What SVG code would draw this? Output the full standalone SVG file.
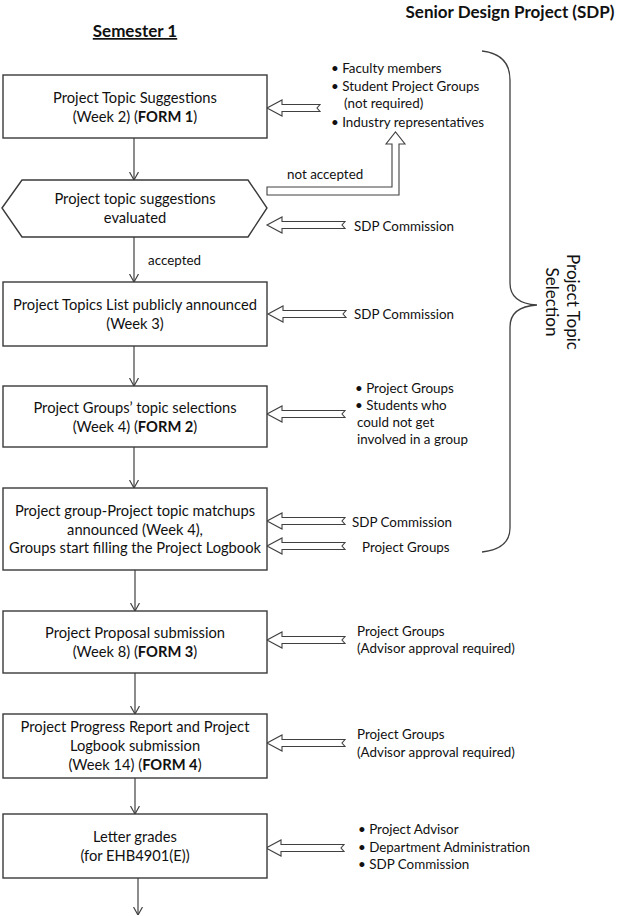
<svg xmlns="http://www.w3.org/2000/svg" width="636" height="916" viewBox="0 0 636 916">
<style>
text{font-family:Lato,"Open Sans","Liberation Sans",sans-serif;font-size:13.4px;fill:#111}
.c{text-anchor:middle;font-size:14.7px}
.b{font-weight:bold}
.box{fill:#fff;stroke:#3a3a3a;stroke-width:1.4}
.ba{fill:#fff;stroke:#404040;stroke-width:1.1;stroke-linejoin:miter}
.con{stroke:#404040;stroke-width:1.2;fill:none}
.brace{fill:none;stroke:#404040;stroke-width:1.3}
</style>
<defs>
<marker id="ah" viewBox="0 0 8 10" refX="8" refY="5" markerWidth="8" markerHeight="10" markerUnits="userSpaceOnUse" orient="auto">
<path d="M0,0.5 L8,5 L0,9.5" fill="none" stroke="#404040" stroke-width="1.2"/>
</marker>
<path id="blk" class="ba" d="M0,0 L15,-8 L15,-3.5 L78,-3.5 L75,0 L78,3.5 L15,3.5 L15,8 Z"/>
<path id="blks" class="ba" d="M0,0 L15,-8 L15,-3.5 L53,-3.5 L50,0 L53,3.5 L15,3.5 L15,8 Z"/>
</defs>

<text x="510" y="18" class="c b" style="font-size:17px">Senior Design Project (SDP)</text>
<text x="135" y="37" class="c b" style="font-size:17px;text-decoration:underline">Semester 1</text>

<g id="connectors">
<line class="con" x1="134" y1="138" x2="134" y2="180" marker-end="url(#ah)"/>
<line class="con" x1="134" y1="237" x2="134" y2="282" marker-end="url(#ah)"/>
<line class="con" x1="134" y1="346" x2="134" y2="386" marker-end="url(#ah)"/>
<line class="con" x1="134" y1="447" x2="134" y2="488" marker-end="url(#ah)"/>
<line class="con" x1="135" y1="570" x2="135" y2="611" marker-end="url(#ah)"/>
<line class="con" x1="135" y1="673" x2="135" y2="714" marker-end="url(#ah)"/>
<line class="con" x1="135" y1="778" x2="135" y2="814" marker-end="url(#ah)"/>
<line class="con" x1="138" y1="878" x2="138" y2="915" marker-end="url(#ah)"/>
<text x="148" y="265">accepted</text>
<path class="ba" d="M267,187 L392,187 L392,144 L386,144 L395.5,132 L405,144 L399,144 L399,195 L267,195 Z"/>
<text x="287" y="179">not accepted</text>
<use href="#blks" x="267" y="108"/>
<use href="#blk" x="267" y="225"/>
<use href="#blk" x="268" y="314"/>
<use href="#blk" x="267" y="414"/>
<use href="#blk" x="267" y="521"/>
<use href="#blk" x="267" y="546"/>
<use href="#blk" x="267" y="640"/>
<use href="#blk" x="267" y="743"/>
<use href="#blk" x="266" y="848"/>
</g>

<g id="n1">
<rect class="box" x="3" y="75" width="264" height="63"/>
<text x="135" y="103" class="c">Project Topic Suggestions</text>
<text x="135" y="122" class="c">(Week 2) (<tspan class="b">FORM 1</tspan>)</text>
</g>
<g id="src1">
<text x="331" y="73">• Faculty members</text>
<text x="331" y="91">• Student Project Groups</text>
<text x="344" y="108">(not required)</text>
<text x="331" y="127">• Industry representatives</text>
</g>

<g id="n2">
<path class="box" d="M2,208 L22,180 L248,180 L267,208 L248,237 L22,237 Z"/>
<text x="135" y="204" class="c">Project topic suggestions</text>
<text x="135" y="223" class="c">evaluated</text>
</g>
<text x="354" y="231">SDP Commission</text>

<g id="n3">
<rect class="box" x="3" y="282" width="264" height="64"/>
<text x="135" y="310" class="c">Project Topics List publicly announced</text>
<text x="135" y="329" class="c">(Week 3)</text>
</g>
<text x="354" y="319">SDP Commission</text>

<g id="n4">
<rect class="box" x="3" y="386" width="264" height="61"/>
<text x="135" y="413" class="c">Project Groups’ topic selections</text>
<text x="135" y="432" class="c">(Week 4) (<tspan class="b">FORM 2</tspan>)</text>
</g>
<g id="src4">
<text x="355" y="393">• Project Groups</text>
<text x="355" y="410">• Students who</text>
<text x="357" y="427">could not get</text>
<text x="357" y="444">involved in a group</text>
</g>

<g id="n5">
<rect class="box" x="3" y="488" width="264" height="82"/>
<text x="135" y="516" class="c">Project group-Project topic matchups</text>
<text x="135" y="535" class="c">announced (Week 4),</text>
<text x="135" y="553" class="c">Groups start filling the Project Logbook</text>
</g>
<text x="352" y="527">SDP Commission</text>
<text x="362" y="552">Project Groups</text>

<g id="n6">
<rect class="box" x="3" y="611" width="264" height="62"/>
<text x="135" y="638" class="c">Project Proposal submission</text>
<text x="135" y="657" class="c">(Week 8) (<tspan class="b">FORM 3</tspan>)</text>
</g>
<text x="357" y="636">Project Groups</text>
<text x="357" y="653">(Advisor approval required)</text>

<g id="n7">
<rect class="box" x="3" y="714" width="264" height="64"/>
<text x="135" y="732" class="c">Project Progress Report and Project</text>
<text x="135" y="751" class="c">Logbook submission</text>
<text x="135" y="770" class="c">(Week 14) (<tspan class="b">FORM 4</tspan>)</text>
</g>
<text x="357" y="739">Project Groups</text>
<text x="357" y="757">(Advisor approval required)</text>

<g id="n8">
<rect class="box" x="3" y="814" width="264" height="64"/>
<text x="135" y="842" class="c">Letter grades</text>
<text x="135" y="861" class="c">(for EHB4901(E))</text>
</g>
<g id="src8">
<text x="358" y="834">• Project Advisor</text>
<text x="358" y="852">• Department Administration</text>
<text x="358" y="869">• SDP Commission</text>
</g>

<g id="brace">
<path class="brace" d="M482,51 C500,53 510,62 510,80 L510,283 C510,297 520,304 537,305 C520,306 510,313 510,327 L510,528 C510,543 500,550 482,552"/>
<text transform="translate(567,302) rotate(90)" class="c" style="font-size:17px">Project Topic</text>
<text transform="translate(546,302) rotate(90)" class="c" style="font-size:17px">Selection</text>
</g>
</svg>
